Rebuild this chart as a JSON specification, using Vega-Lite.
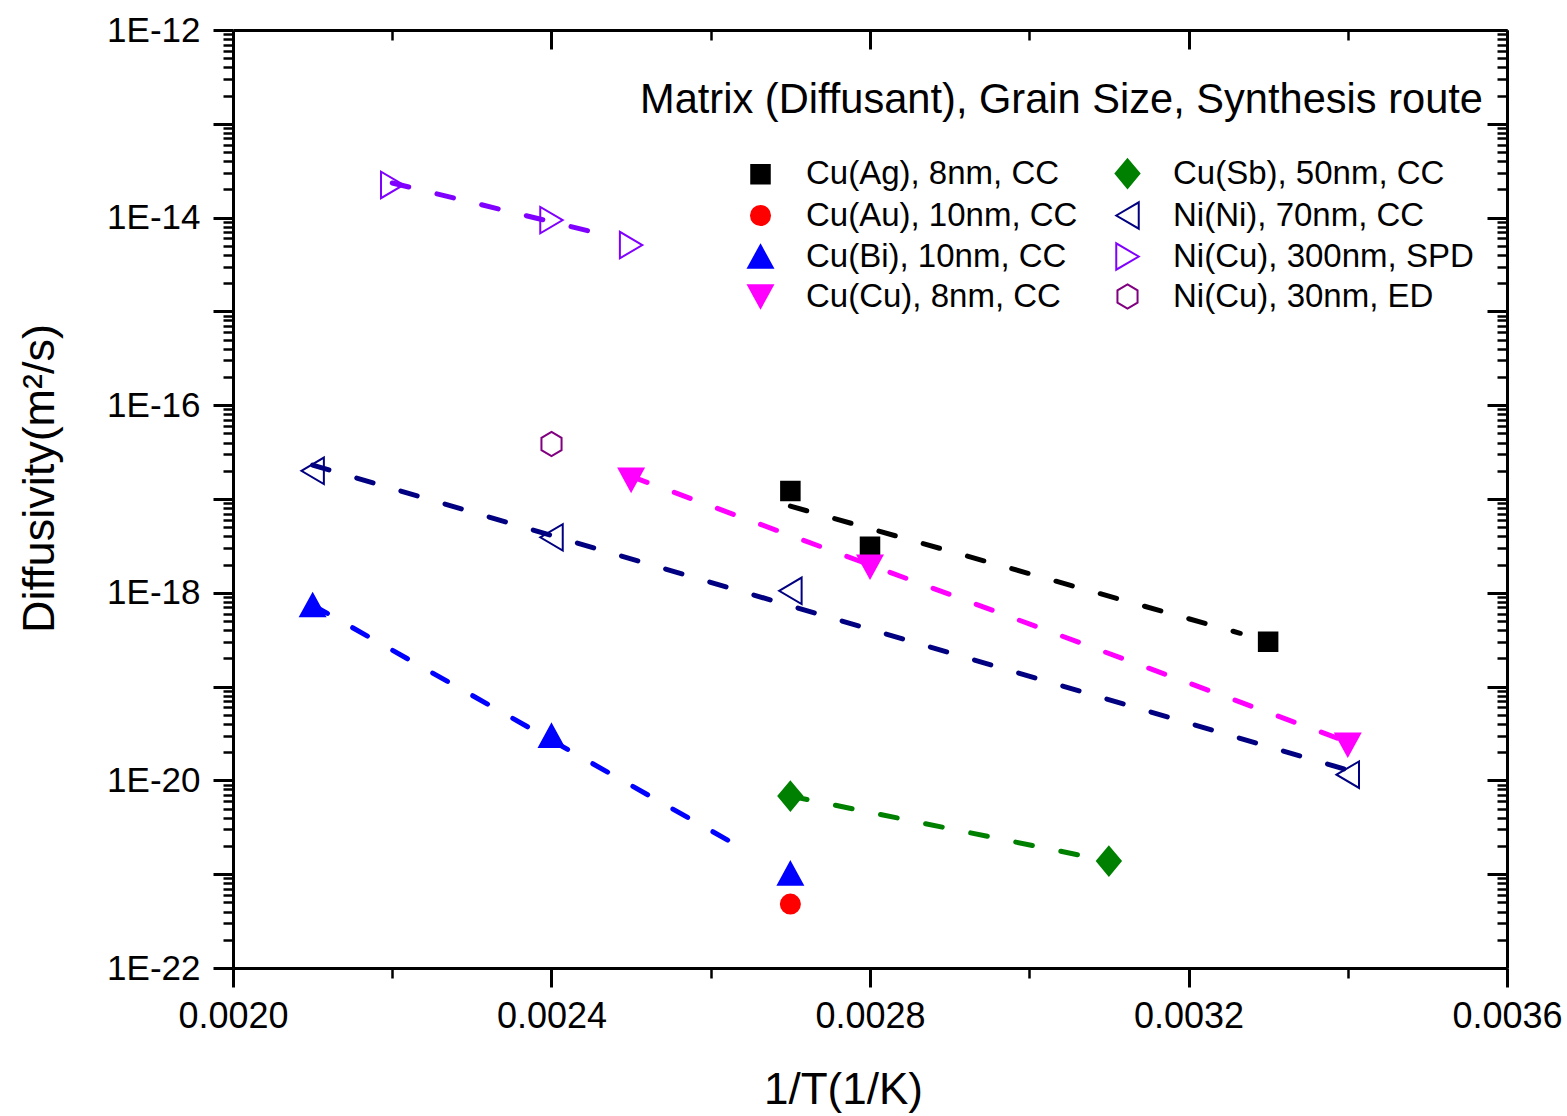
{
  "$schema": "https://vega.github.io/schema/vega-lite/v6.json",
  "width": 1274,
  "height": 938,
  "autosize": "none",
  "padding": {"left": 233, "top": 30, "right": 60, "bottom": 148},
  "background": "white",
  "title": {
    "text": "Matrix (Diffusant), Grain Size, Synthesis route",
    "orient": "top",
    "anchor": "end",
    "frame": "group",
    "font": "Liberation Sans",
    "fontSize": 41.6,
    "fontWeight": "normal",
    "color": "black",
    "baseline": "alphabetic",
    "offset": 0,
    "dx": -24,
    "dy": 142
  },
  "datasets": {
    "points": [
      {"series": "Cu(Ag), 8nm, CC", "x": 0.0027, "D": 1.22e-17},
      {"series": "Cu(Ag), 8nm, CC", "x": 0.0028, "D": 3.1e-18},
      {"series": "Cu(Ag), 8nm, CC", "x": 0.0033, "D": 3.0e-19},
      {"series": "Cu(Au), 10nm, CC", "x": 0.0027, "D": 4.8e-22},
      {"series": "Cu(Bi), 10nm, CC", "x": 0.0021, "D": 7.4e-19},
      {"series": "Cu(Bi), 10nm, CC", "x": 0.0024, "D": 3.0e-20},
      {"series": "Cu(Bi), 10nm, CC", "x": 0.0027, "D": 1.02e-21},
      {"series": "Cu(Cu), 8nm, CC", "x": 0.0025, "D": 1.6e-17},
      {"series": "Cu(Cu), 8nm, CC", "x": 0.0028, "D": 1.9e-18},
      {"series": "Cu(Cu), 8nm, CC", "x": 0.0034, "D": 2.4e-20},
      {"series": "Cu(Sb), 50nm, CC", "x": 0.0027, "D": 6.8e-21},
      {"series": "Cu(Sb), 50nm, CC", "x": 0.0031, "D": 1.38e-21},
      {"series": "Ni(Ni), 70nm, CC", "x": 0.0021, "D": 2.0e-17},
      {"series": "Ni(Ni), 70nm, CC", "x": 0.0024, "D": 3.9e-18},
      {"series": "Ni(Ni), 70nm, CC", "x": 0.0027, "D": 1.05e-18},
      {"series": "Ni(Ni), 70nm, CC", "x": 0.0034, "D": 1.15e-20},
      {"series": "Ni(Cu), 300nm, SPD", "x": 0.0022, "D": 2.23e-14},
      {"series": "Ni(Cu), 300nm, SPD", "x": 0.0024, "D": 9.4e-15},
      {"series": "Ni(Cu), 300nm, SPD", "x": 0.0025, "D": 5.1e-15},
      {"series": "Ni(Cu), 30nm, ED", "x": 0.0024, "D": 3.86e-17}
    ],
    "fits": [
      {"series": "Cu(Ag), 8nm, CC", "x": 0.0027, "D": 8.4e-18},
      {"series": "Cu(Ag), 8nm, CC", "x": 0.003265, "D": 3.7e-19},
      {"series": "Cu(Bi), 10nm, CC", "x": 0.0021, "D": 7.4e-19},
      {"series": "Cu(Bi), 10nm, CC", "x": 0.00265, "D": 1.68e-21},
      {"series": "Cu(Cu), 8nm, CC", "x": 0.0025, "D": 1.74e-17},
      {"series": "Cu(Cu), 8nm, CC", "x": 0.0034, "D": 2.57e-20},
      {"series": "Cu(Sb), 50nm, CC", "x": 0.0027, "D": 6.8e-21},
      {"series": "Cu(Sb), 50nm, CC", "x": 0.003066, "D": 1.58e-21},
      {"series": "Ni(Ni), 70nm, CC", "x": 0.0021, "D": 2.3e-17},
      {"series": "Ni(Ni), 70nm, CC", "x": 0.0034, "D": 1.29e-20},
      {"series": "Ni(Cu), 300nm, SPD", "x": 0.0022, "D": 2.34e-14},
      {"series": "Ni(Cu), 300nm, SPD", "x": 0.002457, "D": 6.86e-15}
    ]
  },
  "resolve": {"axis": {"x": "independent", "y": "independent"}},
  "layer": [
    {
      "data": {"name": "points"},
      "mark": {"type": "point", "filled": true, "size": 700, "strokeWidth": 2, "opacity": 1},
      "encoding": {
        "x": {
          "field": "x", "type": "quantitative",
          "scale": {"domain": [0.002, 0.0036], "nice": false, "zero": false},
          "axis": {
            "orient": "bottom",
            "values": [0.002, 0.0024, 0.0028, 0.0032, 0.0036],
            "format": ".4f",
            "labelFontSize": 36, "labelPadding": 12, "labelFlush": false, "labelOverlap": false,
            "tickSize": 19, "tickWidth": 3,
            "domainWidth": 3,
            "title": "1/T(1/K)", "titleFontSize": 44, "titleFontWeight": "normal",
            "titleX": 610, "titleY": 135, "titleBaseline": "alphabetic"
          }
        },
        "y": {
          "field": "D", "type": "quantitative",
          "scale": {"type": "log", "domain": [1e-22, 1e-12], "nice": false},
          "axis": {
            "orient": "left",
            "values": [1e-12, 1e-13, 1e-14, 1e-15, 1e-16, 1e-17, 1e-18, 1e-19, 1e-20, 1e-21, 1e-22],
            "labelExpr": "round(log(datum.value) / LN10) % 2 == 0 ? '1E' + round(log(datum.value) / LN10) : ''",
            "labelFontSize": 35, "labelPadding": 13, "labelFlush": false, "labelOverlap": false,
            "tickSize": 20, "tickWidth": 3,
            "domainWidth": 3,
            "title": "Diffusivity(m²/s)", "titleFontSize": 45, "titleFontWeight": "normal",
            "titleX": -171, "titleY": 448
          }
        },
        "shape": {
          "field": "series", "type": "nominal",
          "scale": {
            "domain": ["Cu(Ag), 8nm, CC", "Cu(Au), 10nm, CC", "Cu(Bi), 10nm, CC", "Cu(Cu), 8nm, CC", "Cu(Sb), 50nm, CC", "Ni(Ni), 70nm, CC", "Ni(Cu), 300nm, SPD", "Ni(Cu), 30nm, ED"],
            "range": [
              "M-0.7,-0.7L0.7,-0.7L0.7,0.7L-0.7,0.7Z",
              "M0.72,0A0.72,0.72 0 1,1 -0.72,0A0.72,0.72 0 1,1 0.72,0Z",
              "M0,-0.85L0.93,0.85L-0.93,0.85Z",
              "M0,0.85L0.93,-0.85L-0.93,-0.85Z",
              "M0,-1.08L0.9,0L0,1.08L-0.9,0Z",
              "M-0.85,0L0.85,-1L0.85,1Z",
              "M0.85,0L-0.85,-1L-0.85,1Z",
              "M0,-0.92L0.76,-0.46L0.76,0.46L0,0.92L-0.76,0.46L-0.76,-0.46Z"
            ]
          },
          "legend": {"orient": "none", "legendX": 511, "legendY": 127, "columns": 2, "title": null}
        },
        "fill": {
          "field": "series", "type": "nominal",
          "scale": {
            "domain": ["Cu(Ag), 8nm, CC", "Cu(Au), 10nm, CC", "Cu(Bi), 10nm, CC", "Cu(Cu), 8nm, CC", "Cu(Sb), 50nm, CC", "Ni(Ni), 70nm, CC", "Ni(Cu), 300nm, SPD", "Ni(Cu), 30nm, ED"],
            "range": ["#000000", "#FF0000", "#0000FF", "#FF00FF", "#008000", "transparent", "transparent", "transparent"]
          },
          "legend": {"orient": "none", "legendX": 511, "legendY": 127, "columns": 2, "title": null}
        },
        "stroke": {
          "field": "series", "type": "nominal",
          "scale": {
            "domain": ["Cu(Ag), 8nm, CC", "Cu(Au), 10nm, CC", "Cu(Bi), 10nm, CC", "Cu(Cu), 8nm, CC", "Cu(Sb), 50nm, CC", "Ni(Ni), 70nm, CC", "Ni(Cu), 300nm, SPD", "Ni(Cu), 30nm, ED"],
            "range": ["#000000", "#FF0000", "#0000FF", "#FF00FF", "#008000", "#000080", "#8000FF", "#800080"]
          },
          "legend": {"orient": "none", "legendX": 511, "legendY": 127, "columns": 2, "title": null}
        }
      }
    },
    {
      "data": {"name": "fits"},
      "mark": {"type": "line", "strokeWidth": 5, "strokeDash": [17, 29], "strokeCap": "round"},
      "encoding": {
        "x": {
          "field": "x", "type": "quantitative",
          "axis": {
            "orient": "top",
            "values": [0.002, 0.0024, 0.0028, 0.0032, 0.0036],
            "labels": false, "tickSize": -19, "tickWidth": 3, "domainWidth": 3, "title": null
          }
        },
        "y": {
          "field": "D", "type": "quantitative",
          "axis": {
            "orient": "right",
            "values": [1e-12, 1e-13, 1e-14, 1e-15, 1e-16, 1e-17, 1e-18, 1e-19, 1e-20, 1e-21, 1e-22],
            "labels": false, "tickSize": -20, "tickWidth": 3, "domainWidth": 3, "title": null
          }
        },
        "stroke": {
          "field": "series", "type": "nominal",
          "scale": {
            "domain": ["Cu(Ag), 8nm, CC", "Cu(Au), 10nm, CC", "Cu(Bi), 10nm, CC", "Cu(Cu), 8nm, CC", "Cu(Sb), 50nm, CC", "Ni(Ni), 70nm, CC", "Ni(Cu), 300nm, SPD", "Ni(Cu), 30nm, ED"],
            "range": ["#000000", "#FF0000", "#0000FF", "#FF00FF", "#008000", "#000080", "#8000FF", "#800080"]
          },
          "legend": null
        }
      }
    },
    {
      "data": {"name": "fits"},
      "mark": {"type": "point", "opacity": 0},
      "encoding": {
        "x": {
          "field": "x", "type": "quantitative",
          "axis": {
            "orient": "bottom", "values": [0.0022, 0.0026, 0.003, 0.0034],
            "labels": false, "domain": false, "tickSize": 10, "tickWidth": 2.5, "title": null
          }
        },
        "y": {
          "field": "D", "type": "quantitative",
          "axis": {
            "orient": "left",
            "values": [2e-22, 3e-22, 4e-22, 5e-22, 6e-22, 7e-22, 8e-22, 9e-22,
                       2e-21, 3e-21, 4e-21, 5e-21, 6e-21, 7e-21, 8e-21, 9e-21,
                       2e-20, 3e-20, 4e-20, 5e-20, 6e-20, 7e-20, 8e-20, 9e-20,
                       2e-19, 3e-19, 4e-19, 5e-19, 6e-19, 7e-19, 8e-19, 9e-19,
                       2e-18, 3e-18, 4e-18, 5e-18, 6e-18, 7e-18, 8e-18, 9e-18,
                       2e-17, 3e-17, 4e-17, 5e-17, 6e-17, 7e-17, 8e-17, 9e-17,
                       2e-16, 3e-16, 4e-16, 5e-16, 6e-16, 7e-16, 8e-16, 9e-16,
                       2e-15, 3e-15, 4e-15, 5e-15, 6e-15, 7e-15, 8e-15, 9e-15,
                       2e-14, 3e-14, 4e-14, 5e-14, 6e-14, 7e-14, 8e-14, 9e-14,
                       2e-13, 3e-13, 4e-13, 5e-13, 6e-13, 7e-13, 8e-13, 9e-13],
            "labels": false, "domain": false, "tickSize": 10, "tickWidth": 2.5, "title": null
          }
        }
      }
    },
    {
      "data": {"name": "fits"},
      "mark": {"type": "point", "opacity": 0},
      "encoding": {
        "x": {
          "field": "x", "type": "quantitative",
          "axis": {
            "orient": "top", "values": [0.0022, 0.0026, 0.003, 0.0034],
            "labels": false, "domain": false, "tickSize": -10, "tickWidth": 2.5, "title": null
          }
        },
        "y": {
          "field": "D", "type": "quantitative",
          "axis": {
            "orient": "right",
            "values": [2e-22, 3e-22, 4e-22, 5e-22, 6e-22, 7e-22, 8e-22, 9e-22,
                       2e-21, 3e-21, 4e-21, 5e-21, 6e-21, 7e-21, 8e-21, 9e-21,
                       2e-20, 3e-20, 4e-20, 5e-20, 6e-20, 7e-20, 8e-20, 9e-20,
                       2e-19, 3e-19, 4e-19, 5e-19, 6e-19, 7e-19, 8e-19, 9e-19,
                       2e-18, 3e-18, 4e-18, 5e-18, 6e-18, 7e-18, 8e-18, 9e-18,
                       2e-17, 3e-17, 4e-17, 5e-17, 6e-17, 7e-17, 8e-17, 9e-17,
                       2e-16, 3e-16, 4e-16, 5e-16, 6e-16, 7e-16, 8e-16, 9e-16,
                       2e-15, 3e-15, 4e-15, 5e-15, 6e-15, 7e-15, 8e-15, 9e-15,
                       2e-14, 3e-14, 4e-14, 5e-14, 6e-14, 7e-14, 8e-14, 9e-14,
                       2e-13, 3e-13, 4e-13, 5e-13, 6e-13, 7e-13, 8e-13, 9e-13],
            "labels": false, "domain": false, "tickSize": -10, "tickWidth": 2.5, "title": null
          }
        }
      }
    }
  ],
  "config": {
    "font": "Liberation Sans",
    "view": {"stroke": null},
    "axis": {
      "grid": false,
      "labelFont": "Liberation Sans",
      "titleFont": "Liberation Sans",
      "labelColor": "black",
      "titleColor": "black",
      "tickColor": "black",
      "domainColor": "black"
    },
    "legend": {
      "padding": 0,
      "columnPadding": 33,
      "rowPadding": 6,
      "symbolSize": 700,
      "symbolStrokeWidth": 2,
      "symbolOpacity": 1,
      "labelFont": "Liberation Sans",
      "labelFontSize": 33,
      "labelColor": "black",
      "labelOffset": 29,
      "labelLimit": 0
    }
  }
}
